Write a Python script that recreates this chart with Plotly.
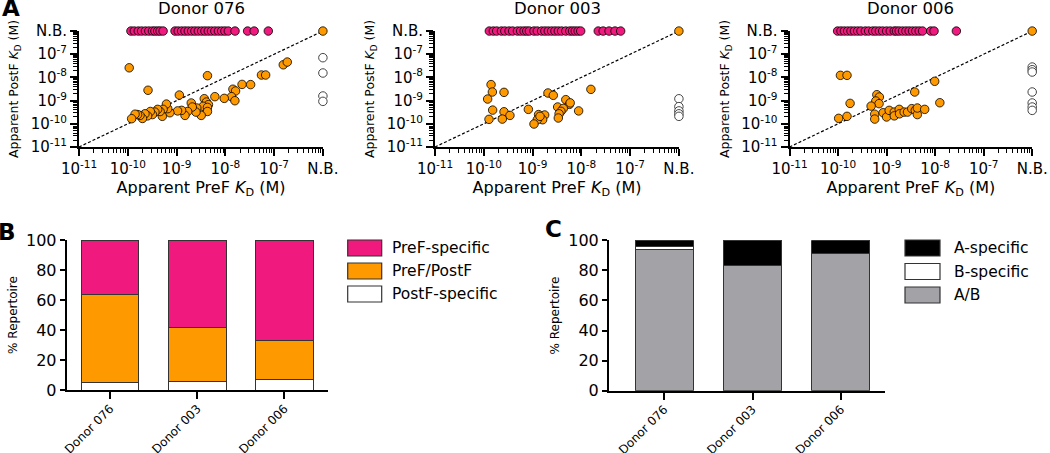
import plotly.graph_objects as go

W, H = 1050, 453
FONT = "DejaVu Sans"
NB = 1e-6  # axis position used for "N.B." (no binding)

PINK = "#F0197D"
ORANGE = "#FF9900"
GRAY = "#A3A3A7"

donors = ["Donor 076", "Donor 003", "Donor 006"]
kd_tickvals = [1e-11, 1e-10, 1e-9, 1e-8, 1e-7, 1e-6]
kd_ticktext = ["10<sup>-11</sup>", "10<sup>-10</sup>", "10<sup>-9</sup>",
               "10<sup>-8</sup>", "10<sup>-7</sup>", "N.B."]

# ---------------- Panel A data (apparent KD, M) ----------------
# Donor 076
d076_pref_only_x = [1.16e-10, 1.36e-10, 1.64e-10, 1.92e-10, 2.3e-10, 2.7e-10, 3.2e-10, 3.6e-10,
                    4.1e-10, 4.6e-10, 5.3e-10, 9.3e-10, 1.08e-9, 1.27e-9, 1.49e-9, 1.74e-9,
                    2.04e-9, 2.38e-9, 2.79e-9, 3.27e-9, 3.82e-9, 4.47e-9, 5.2e-9, 6.1e-9,
                    7.2e-9, 8.4e-9, 9.8e-9, 1.15e-8, 1.58e-8, 2.86e-8, 3.9e-8, 7.6e-8]
d076_both_x = [1.07e-10, 2.6e-10, 1.14e-9, 4.3e-9, 1.54e-7, 1.86e-7, 5.5e-8, 6.7e-8, 2.2e-8, 3.3e-8,
               1.43e-8, 1.62e-8, 1.34e-8, 1.57e-8, 9.5e-9, 6.1e-9, 3.7e-9, 4.1e-9, 4.5e-9, 3.5e-9,
               4.3e-9, 4.3e-9, 3.2e-9, 2.6e-9, 2.5e-9, 2.0e-9, 2.1e-9, 1.69e-9, 1.49e-9, 1.27e-9,
               1.05e-9, 7.3e-10, 6.6e-10, 6.2e-10, 5.3e-10, 5.1e-10, 4.6e-10, 4.1e-10, 3.6e-10,
               3.2e-10, 2.9e-10, 2.55e-10, 2.25e-10, 2.0e-10, 1.78e-10, 1.59e-10, 1.41e-10, 1.2e-10, NB]
d076_both_y = [2.6e-8, 2.8e-9, 1.74e-9, 1.19e-8, 3.5e-8, 4.6e-8, 1.27e-8, 1.27e-8, 5.0e-9, 4.9e-9,
               3.1e-9, 2.6e-9, 1.48e-9, 9.9e-10, 1.25e-9, 1.48e-9, 1.21e-9, 8.7e-10, 6.7e-10, 5.7e-10,
               5.1e-10, 3.4e-10, 2.3e-10, 4.8e-10, 3.2e-10, 7.9e-10, 5.3e-10, 3.4e-10, 2.3e-10, 3.8e-10,
               3.6e-10, 3.0e-10, 4.5e-10, 7.1e-10, 4.2e-10, 2.1e-10, 3.4e-10, 4.2e-10, 3.2e-10,
               2.5e-10, 3.4e-10, 2.2e-10, 2.7e-10, 1.7e-10, 2.3e-10, 2.5e-10, 2.6e-10, 1.66e-10, NB]
d076_postf_only_y = [7.1e-8, 1.55e-8, 1.58e-9, 9.3e-10]

# Donor 003
d003_pref_only_x = [1.30e-10, 1.57e-10, 1.84e-10, 2.3e-10, 2.7e-10, 3.3e-10, 3.9e-10, 4.9e-10,
                    5.7e-10, 6.7e-10, 7.6e-10, 8.6e-10, 1.07e-9, 1.25e-9, 1.53e-9, 1.79e-9,
                    2.1e-9, 2.46e-9, 2.88e-9, 3.37e-9, 3.94e-9, 4.8e-9, 5.8e-9, 6.6e-9,
                    7.5e-9, 8.6e-9, 9.7e-9, 2.22e-8, 2.8e-8, 3.7e-8, 4.9e-8, 6.4e-8]
d003_both_x = [1.41e-10, 1.5e-10, 2.6e-10, 1.2e-10, 1.52e-10, 1.28e-10, 2.6e-10, 3.44e-10, 2.4e-10,
               8.2e-10, 2.07e-9, 2.66e-9, 1.57e-8, 4.8e-9, 5.7e-9, 5.9e-9, 3.27e-9, 4.27e-9, 3.82e-9,
               3.5e-9, 3.37e-9, 8.8e-9, 1.33e-9, 1.77e-9, 1.61e-9, 1.25e-9, 1.07e-9, 1.42e-9, NB]
d003_both_y = [4.9e-9, 2.35e-9, 2.27e-9, 1.17e-9, 3.9e-10, 1.56e-10, 3.3e-10, 2.3e-10, 1.6e-10,
               4.2e-10, 2.13e-9, 1.69e-9, 3.06e-9, 1.1e-9, 6.9e-10, 8.0e-10, 5.3e-10, 4.6e-10, 3.45e-10,
               2.7e-10, 1.78e-10, 3.6e-10, 2.5e-10, 2.4e-10, 1.5e-10, 1.5e-10, 9.8e-11, 2.1e-10, NB]
d003_postf_only_y = [1.2e-9, 5.5e-10, 3.6e-10, 2.7e-10, 2.1e-10]

# Donor 006
d006_pref_only_x = [9.8e-11, 1.15e-10, 1.35e-10, 1.58e-10, 1.85e-10, 2.17e-10, 2.54e-10, 2.97e-10,
                    3.65e-10, 4.27e-10, 5.2e-10, 6.0e-10, 7.1e-10, 8.3e-10, 1.0e-9, 1.19e-9,
                    1.44e-9, 1.6e-9, 1.82e-9, 2.13e-9, 2.5e-9, 2.92e-9, 3.42e-9, 4.0e-9,
                    4.7e-9, 5.5e-9, 8.1e-9, 9.5e-9, 2.74e-8]
d006_both_x = [1.12e-10, 1.53e-10, 9.8e-9, 3.8e-9, 1.25e-8, 1.77e-10, 1.03e-10, 1.53e-10, 6.3e-10,
               7.1e-10, 6.0e-10, 7.0e-10, 4.8e-10, 5.7e-10, 5.7e-10, 8.5e-10, 1.0e-9, 1.13e-9, 1.44e-9,
               1.44e-9, 1.82e-9, 1.85e-9, 2.3e-9, 2.7e-9, 3.3e-9, 3.9e-9, 4.3e-9, 4.3e-9, 6.1e-9, NB]
d006_both_y = [1.23e-8, 1.23e-8, 6.8e-9, 2.35e-9, 8.1e-10, 7.6e-10, 1.72e-10, 2.1e-10, 1.8e-9,
               1.43e-9, 9.6e-10, 7.4e-10, 5.8e-10, 2.6e-10, 1.6e-10, 3.0e-10, 1.97e-10, 3.8e-10, 3.2e-10,
               2.2e-10, 4.2e-10, 2.7e-10, 3.2e-10, 3.2e-10, 4.5e-10, 3.8e-10, 2.5e-10, 4.8e-10, 4.2e-10, NB]
d006_postf_only_y = [2.8e-8, 2.15e-8, 1.71e-8, 2.35e-9, 7.9e-10, 5.3e-10, 3.8e-10]

identity_line = [1e-11, 1e-6]

# ---------------- Panel B data (% repertoire) ----------------
b_names = ["PostF-specific", "PreF/PostF", "PreF-specific"]
postf_specific = [5, 6, 7]
pref_postf = [59, 36, 26]
pref_specific = [36, 58, 67]

# ---------------- Panel C data (% repertoire) ----------------
c_names = ["A/B", "B-specific", "A-specific"]
ab_both = [94, 83, 91]
b_specific = [2, 0, 0]
a_specific = [4, 17, 9]


def xd(a, b):
    return [a / W, b / W]


def yd(top, bottom):
    return [1 - bottom / H, 1 - top / H]


fig = go.Figure()

scatter_sets = [
    (d076_pref_only_x, d076_both_x, d076_both_y, d076_postf_only_y),
    (d003_pref_only_x, d003_both_x, d003_both_y, d003_postf_only_y),
    (d006_pref_only_x, d006_both_x, d006_both_y, d006_postf_only_y),
]

MS = 8.5
for i, (px_, bx, by, py_) in enumerate(scatter_sets):
    xa = "x" if i == 0 else f"x{i+1}"
    ya = "y" if i == 0 else f"y{i+1}"
    fig.add_trace(go.Scatter(x=identity_line, y=identity_line, mode="lines",
                             line=dict(color="black", width=1.2, dash="3px,2px"),
                             xaxis=xa, yaxis=ya, showlegend=False, hoverinfo="skip"))
    fig.add_trace(go.Scatter(x=bx, y=by, mode="markers", cliponaxis=False,
                             marker=dict(size=MS, color=ORANGE, line=dict(color="black", width=0.8)),
                             xaxis=xa, yaxis=ya, showlegend=False))
    fig.add_trace(go.Scatter(x=px_, y=[NB] * len(px_), mode="markers", cliponaxis=False,
                             marker=dict(size=MS, color=PINK, line=dict(color="black", width=0.8)),
                             xaxis=xa, yaxis=ya, showlegend=False))
    fig.add_trace(go.Scatter(x=[NB] * len(py_), y=py_, mode="markers", cliponaxis=False,
                             marker=dict(size=MS, color="white", line=dict(color="#444", width=1)),
                             xaxis=xa, yaxis=ya, showlegend=False))

# Panel B bars
for vals, color, name in [(postf_specific, "white", b_names[0]),
                          (pref_postf, ORANGE, b_names[1]),
                          (pref_specific, PINK, b_names[2])]:
    fig.add_trace(go.Bar(x=donors, y=vals, name=name, width=0.66,
                         marker=dict(color=color, line=dict(color="#333", width=1)),
                         xaxis="x4", yaxis="y4", showlegend=False))

# Panel C bars
for vals, color, name in [(ab_both, GRAY, c_names[0]),
                          (b_specific, "white", c_names[1]),
                          (a_specific, "black", c_names[2])]:
    fig.add_trace(go.Bar(x=donors, y=vals, name=name, width=0.66,
                         marker=dict(color=color, line=dict(color="#333", width=1)),
                         xaxis="x5", yaxis="y5", showlegend=False))

minor_vals = [k * 10.0 ** e for e in range(-11, -6) for k in range(2, 10)]

def kd_axis(domain, anchor, title, is_y):
    return dict(
        domain=domain, anchor=anchor, type="log", range=[-11, -5.998],
        tickmode="array", tickvals=kd_tickvals, ticktext=kd_ticktext,
        ticks="outside", ticklen=7, tickwidth=1.5, tickcolor="black",
        showline=True, linecolor="black", linewidth=2, showgrid=False, zeroline=False,
        minor=dict(tickmode="array", tickvals=minor_vals, ticks="outside",
                   ticklen=4, tickwidth=1, tickcolor="black"),
        tickfont=dict(family=FONT, size=15, color="black"),
        title=dict(text=title, font=dict(family=FONT, size=12.5 if is_y else 16, color="black"),
                   standoff=9 if is_y else 2),
        automargin=False,
    )

xt = "Apparent PreF <i>K</i><sub>D</sub> (M)"
yt = "Apparent PostF <i>K</i><sub>D</sub> (M)"
sx = [(79, 323), (435, 679), (789.5, 1032.3)]
sy = (31, 147)

layout = dict(
    width=W, height=H, margin=dict(l=0, r=0, t=0, b=0),
    paper_bgcolor="white", plot_bgcolor="white", barmode="stack",
    font=dict(family=FONT, color="black"),
)
for i in range(3):
    xk = "xaxis" if i == 0 else f"xaxis{i+1}"
    yk = "yaxis" if i == 0 else f"yaxis{i+1}"
    xa = "x" if i == 0 else f"x{i+1}"
    ya = "y" if i == 0 else f"y{i+1}"
    layout[xk] = kd_axis(xd(*sx[i]), ya, xt, False)
    layout[yk] = kd_axis(yd(*sy), xa, yt, True)

def bar_axes(xdom, ydom, xrange, anchor_x, anchor_y):
    xa = dict(domain=xdom, anchor=anchor_y, range=xrange, showline=True, linecolor="black",
              linewidth=2, ticks="outside", ticklen=7, tickwidth=2, tickcolor="black",
              tickangle=-45, tickfont=dict(family=FONT, size=12, color="black"),
              ticklabelstandoff=-2,
              showgrid=False, zeroline=False, automargin=False)
    ya = dict(domain=ydom, anchor=anchor_x, range=[0, 100], tickvals=[0, 20, 40, 60, 80, 100],
              showline=True, linecolor="black", linewidth=2, ticks="outside", ticklen=5,
              tickwidth=2, tickcolor="black", tickfont=dict(family=FONT, size=16, color="black"),
              title=dict(text="% Repertoire", font=dict(family=FONT, size=12, color="black"), standoff=6),
              showgrid=False, zeroline=False, automargin=False)
    return xa, ya

layout["xaxis4"], layout["yaxis4"] = bar_axes(xd(66.7, 328), yd(240, 390), [-0.5, 2.5], "x4", "y4")
layout["xaxis5"], layout["yaxis5"] = bar_axes(xd(609, 885), yd(240.3, 390.7), [-0.625, 2.5], "x5", "y5")

annotations = []
shapes = []
for i, name in enumerate(donors):
    xa = "x" if i == 0 else f"x{i+1}"
    ya = "y" if i == 0 else f"y{i+1}"
    annotations.append(dict(text=name, xref=f"{xa} domain", yref=f"{ya} domain", x=0.5, y=1,
                            yanchor="middle", yshift=23, showarrow=False,
                            font=dict(family=FONT, size=16.5, color="black")))

for letter, x, y in [("A", 11, 8), ("B", 7, 232), ("C", 553, 229)]:
    annotations.append(dict(text=f"<b>{letter}</b>", xref="paper", yref="paper",
                            x=x / W, y=1 - y / H, xanchor="center", yanchor="middle",
                            showarrow=False, font=dict(family=FONT, size=23, color="black")))

# Custom legends (large boxes as in the original)
legend_b = [(PINK, b_names[2]), (ORANGE, b_names[1]), ("white", b_names[0])]
legend_c = [("black", c_names[2]), ("white", c_names[1]), (GRAY, c_names[0])]
for items, bx0, bx1, tx, tops in [(legend_b, 347.7, 381.7, 389.5, [240, 263, 286]),
                                  (legend_c, 905, 940, 951.7, [240, 263.5, 287])]:
    for (color, name), top in zip(items, tops):
        shapes.append(dict(type="rect", xref="paper", yref="paper",
                           x0=bx0 / W, x1=bx1 / W, y0=1 - (top + 16) / H, y1=1 - top / H,
                           fillcolor=color, line=dict(color="#333", width=1.2)))
        annotations.append(dict(text=name, xref="paper", yref="paper", x=tx / W,
                                y=1 - (top + 8) / H, xanchor="left", yanchor="middle",
                                showarrow=False, font=dict(family=FONT, size=15.5, color="black")))

layout["annotations"] = annotations
layout["shapes"] = shapes
fig.update_layout(**layout)

fig.write_html("out.html", config={"displayModeBar": False},
               post_script="document.body.style.margin='0';document.body.style.overflow='hidden';")
